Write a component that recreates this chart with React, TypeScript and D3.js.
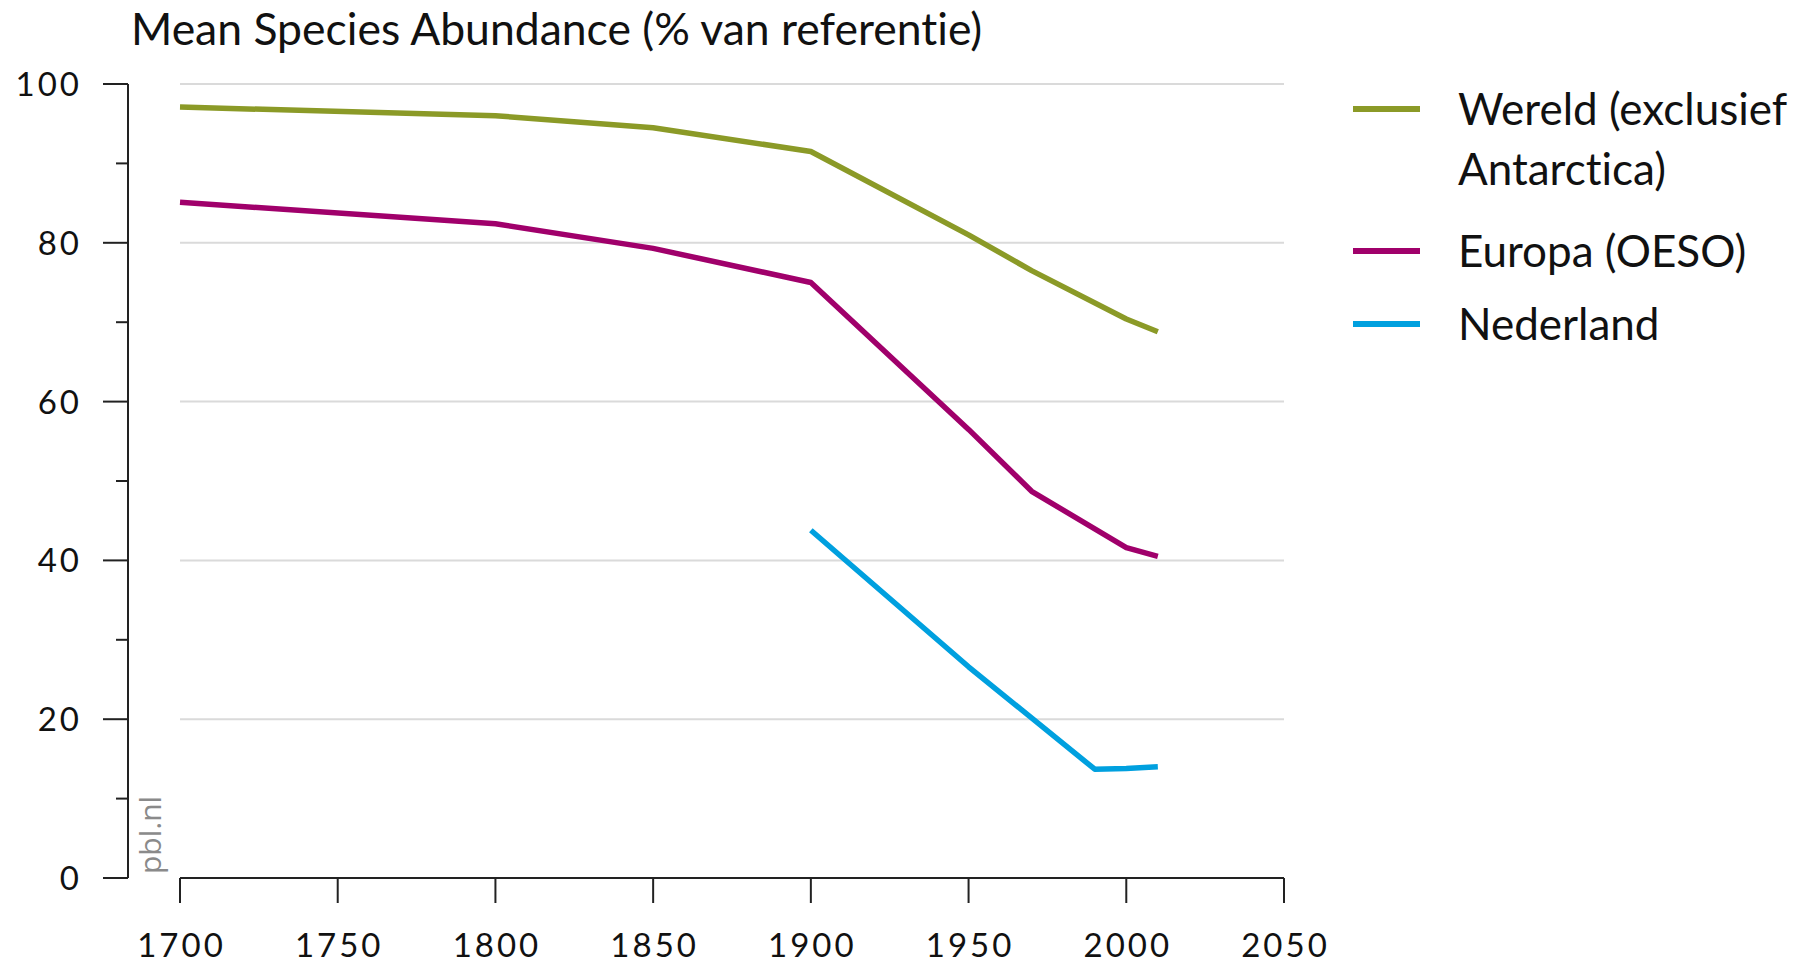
import React from "react";
import * as d3 from "d3";

const yearsWereld = [1700, 1800, 1850, 1900, 1950, 1970, 2000, 2010];
const valuesWereld = [97.1, 96.0, 94.5, 91.5, 81.0, 76.5, 70.4, 68.8];
const yearsEuropa = [1700, 1800, 1850, 1900, 1950, 1970, 2000, 2010];
const valuesEuropa = [85.1, 82.4, 79.3, 75.0, 56.5, 48.7, 41.6, 40.5];
const yearsNL = [1900, 1950, 1990, 2000, 2010];
const valuesNL = [43.8, 26.6, 13.7, 13.8, 14.0];

const xTicks = [1700, 1750, 1800, 1850, 1900, 1950, 2000, 2050];
const yTicks = [0, 20, 40, 60, 80, 100];
const yMinor = [10, 30, 50, 70, 90];

const seriesNames = ["Wereld (exclusief|Antarctica)", "Europa (OESO)", "Nederland"];
const seriesColors = ["#8b9a27", "#a0006b", "#00a0df"];

const title = "Mean Species Abundance (% van referentie)";
const FONT = "Lato, 'Open Sans', sans-serif";

export default function App() {
  const width = 1798;
  const height = 969;

  const x = d3.scaleLinear().domain([1700, 2050]).range([180, 1284]);
  const y = d3.scaleLinear().domain([0, 100]).range([878, 84]);

  const line = d3
    .line<[number, number]>()
    .x((d) => x(d[0]))
    .y((d) => y(d[1]));

  const series = [
    d3.zip(yearsWereld, valuesWereld) as [number, number][],
    d3.zip(yearsEuropa, valuesEuropa) as [number, number][],
    d3.zip(yearsNL, valuesNL) as [number, number][],
  ];

  const axisX = 128;
  const legendY = [109, 251, 324];

  return (
    <svg
      width={width}
      height={height}
      style={{
        position: "absolute",
        left: 0,
        top: 0,
        background: "#fff",
        fontVariantLigatures: "none",
      }}
      fontFamily={FONT}
    >
      <text x={131} y={45} fontSize={44.5} fill="#111">
        {title}
      </text>

      {/* gridlines */}
      {yTicks
        .filter((t) => t > 0)
        .map((t) => (
          <line
            key={"g" + t}
            x1={x(1700)}
            x2={x(2050)}
            y1={y(t)}
            y2={y(t)}
            stroke="#dadada"
            strokeWidth={2}
          />
        ))}

      {/* y axis */}
      <line x1={axisX} x2={axisX} y1={y(100)} y2={y(0)} stroke="#222" strokeWidth={2} />
      {yTicks.map((t) => (
        <g key={"y" + t}>
          <line x1={axisX - 25} x2={axisX} y1={y(t)} y2={y(t)} stroke="#222" strokeWidth={2} />
          <text x={82} y={y(t) + 12} textAnchor="end" fontSize={33} letterSpacing={3} fill="#111">
            {t}
          </text>
        </g>
      ))}
      {yMinor.map((t) => (
        <line key={"m" + t} x1={axisX - 12} x2={axisX} y1={y(t)} y2={y(t)} stroke="#222" strokeWidth={2} />
      ))}

      {/* x axis */}
      <line x1={x(1700)} x2={x(2050)} y1={y(0)} y2={y(0)} stroke="#222" strokeWidth={2} />
      {xTicks.map((t) => (
        <g key={"x" + t}>
          <line x1={x(t)} x2={x(t)} y1={y(0)} y2={y(0) + 25} stroke="#222" strokeWidth={2} />
          <text x={x(t) + 1.5} y={957} textAnchor="middle" fontSize={33} letterSpacing={3} fill="#111">
            {t}
          </text>
        </g>
      ))}

      <text
        transform={`translate(161,874) rotate(-90)`}
        fontSize={30}
        fill="#8a8a8a"
        fontFamily="'Open Sans', sans-serif"
      >
        pbl.nl
      </text>

      {/* lines */}
      {series.map((s, i) => (
        <path
          key={"s" + i}
          d={line(s) || ""}
          fill="none"
          stroke={seriesColors[i]}
          strokeWidth={5.5}
          strokeLinejoin="round"
        />
      ))}

      {/* legend */}
      {seriesNames.map((name, i) => (
        <g key={"l" + i}>
          <line x1={1353} x2={1420} y1={legendY[i]} y2={legendY[i]} stroke={seriesColors[i]} strokeWidth={6} />
          {name.split("|").map((part, j) => (
            <text key={j} x={1458} y={legendY[i] + 16 + j * 60} fontSize={44} fill="#111">
              {part}
            </text>
          ))}
        </g>
      ))}
    </svg>
  );
}
